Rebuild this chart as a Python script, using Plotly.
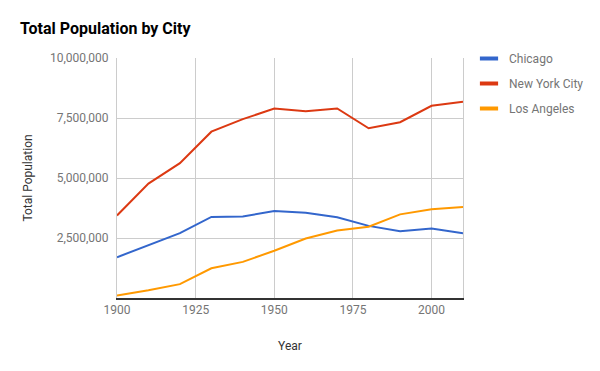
import plotly.graph_objects as go

years = [1900, 1910, 1920, 1930, 1940, 1950, 1960, 1970, 1980, 1990, 2000, 2010]
chicago = [1698575, 2185283, 2701705, 3376438, 3396808, 3620962, 3550404, 3366957, 3005072, 2783726, 2896016, 2695598]
new_york = [3437202, 4766883, 5620048, 6930446, 7454995, 7891957, 7781984, 7894862, 7071639, 7322564, 8008278, 8175133]
los_angeles = [102479, 319198, 576673, 1238048, 1504277, 1970358, 2479015, 2811801, 2966850, 3485398, 3694820, 3792621]

x_ticks = [1900, 1925, 1950, 1975, 2000]
y_ticks = [2500000, 5000000, 7500000, 10000000]
y_tick_text = ["2,500,000", "5,000,000", "7,500,000", "10,000,000"]

series = [
    ("Chicago", chicago, "#3366CC"),
    ("New York City", new_york, "#DC3912"),
    ("Los Angeles", los_angeles, "#FF9900"),
]

fig = go.Figure()
for name, vals, color in series:
    fig.add_trace(go.Scatter(x=years, y=vals, name=name, mode="lines",
                             line=dict(color=color, width=2),
                             legendgroup=name, showlegend=False))
# legend entries with a short thick swatch
for name, vals, color in series:
    fig.add_trace(go.Scatter(x=[None], y=[None], name=name, mode="markers",
                             marker=dict(symbol="line-ew-open", size=13, color=color,
                                         line=dict(color=color, width=4)),
                             legendgroup=name, showlegend=True))

fig.update_layout(
    width=600, height=371,
    margin=dict(l=117, r=137, t=58, b=73, autoexpand=False),
    paper_bgcolor="white", plot_bgcolor="white",
    font=dict(family="Roboto, Arial, sans-serif", size=12, color="#222222"),
    title=dict(text="<b>Total Population by City</b>", x=20/600, xref="container", xanchor="left",
               y=1-28/371, yref="container", yanchor="middle",
               font=dict(size=16, color="#000000")),
    legend=dict(x=1.0 + 6/346, xanchor="left", y=1.0 + 14/240, yanchor="top",
                font=dict(size=12, color="#757575"), itemwidth=30,
                traceorder="grouped", tracegroupgap=6, bgcolor="rgba(0,0,0,0)"),
    showlegend=True,
)
fig.update_xaxes(range=[1900, 2010], tickvals=x_ticks, showgrid=True, gridcolor="#cccccc",
                 showline=True, linecolor="#333333", linewidth=1.5, zeroline=False,
                 tickfont=dict(size=12, color="#757575"), ticks="",
                 title=dict(text="Year", font=dict(size=12, color="#333333"), standoff=25))
fig.update_yaxes(range=[0, 10000000], tickvals=y_ticks, ticktext=y_tick_text, showgrid=True,
                 gridcolor="#cccccc", showline=True, linecolor="#cccccc", mirror=True,
                 zeroline=False, tickfont=dict(size=12, color="#757575"), ticks="",
                 ticklabelstandoff=5,
                 title=dict(text="Total Population", font=dict(size=12, color="#333333"), standoff=14))

fig.write_html("out.html", config={"displayModeBar": False},
               post_script="document.body.style.margin='0';")
